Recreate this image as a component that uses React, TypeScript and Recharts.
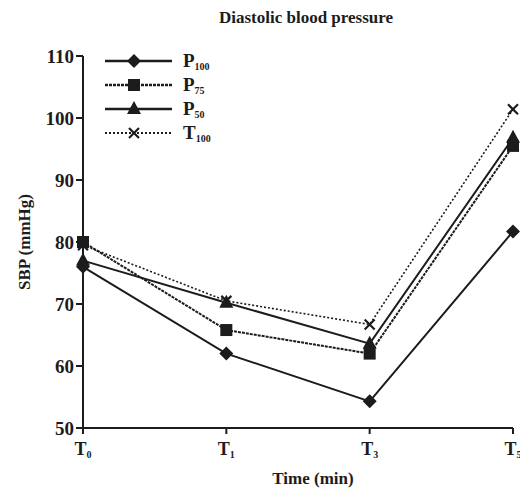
import { LineChart, Line, XAxis, YAxis } from "recharts";

const times = ["T0", "T1", "T3", "T5"];
const p100 = [76, 62, 54.3, 81.7];
const p75 = [80, 65.8, 62, 95.5];
const p50 = [77, 70.2, 63.6, 96.8];
const t100 = [79.5, 70.5, 66.7, 101.4];
const yTicks = [50, 60, 70, 80, 90, 100, 110];

const INK = "#1c1c1c";
const FONT = "'Liberation Serif', 'DejaVu Serif', serif";

const data = times.map((t, i) => ({
  time: t,
  p100: p100[i],
  p75: p75[i],
  p50: p50[i],
  t100: t100[i],
}));

type MarkerProps = { cx: number; cy: number; shape: string };

function Marker({ cx, cy, shape }: MarkerProps) {
  if (shape === "diamond") {
    const r = 7;
    return (
      <polygon
        points={`${cx},${cy - r} ${cx + r},${cy} ${cx},${cy + r} ${cx - r},${cy}`}
        fill={INK}
      />
    );
  }
  if (shape === "square") {
    return <rect x={cx - 6} y={cy - 6} width={12} height={12} fill={INK} />;
  }
  if (shape === "triangle") {
    return (
      <polygon
        points={`${cx},${cy - 8} ${cx + 7},${cy + 5} ${cx - 7},${cy + 5}`}
        fill={INK}
      />
    );
  }
  const r = 5;
  return (
    <g stroke={INK} strokeWidth={2.2}>
      <line x1={cx - r} y1={cy - r} x2={cx + r} y2={cy + r} />
      <line x1={cx - r} y1={cy + r} x2={cx + r} y2={cy - r} />
    </g>
  );
}

const series = [
  { key: "p100", name: "P", sub: "100", shape: "diamond", dash: undefined, width: 2 },
  { key: "p75", name: "P", sub: "75", shape: "square", dash: "3 1", width: 2 },
  { key: "p50", name: "P", sub: "50", shape: "triangle", dash: undefined, width: 2 },
  { key: "t100", name: "T", sub: "100", shape: "cross", dash: "2 2", width: 1.6 },
];

function TimeTick(props: any) {
  const { x, y, payload } = props;
  const label: string = payload.value;
  return (
    <text x={x} y={y + 19} textAnchor="middle" fill={INK} fontFamily={FONT} fontWeight="bold" fontSize={18}>
      {label.slice(0, 1)}
      <tspan fontSize={10} dy={3}>
        {label.slice(1)}
      </tspan>
    </text>
  );
}

function LegendBox() {
  return (
    <svg width={130} height={100} style={{ position: "absolute", left: 100, top: 49 }}>
      {series.map((s, i) => {
        const y = 12 + i * 24;
        return (
          <g key={s.key}>
            <line
              x1={5}
              x2={72}
              y1={y}
              y2={y}
              stroke={INK}
              strokeWidth={s.width + 0.4}
              strokeDasharray={s.dash}
            />
            <Marker cx={34} cy={y} shape={s.shape} />
            <text x={83} y={y + 6} fill={INK} fontFamily={FONT} fontWeight="bold" fontSize={19}>
              {s.name}
              <tspan fontSize={10} dy={3}>
                {s.sub}
              </tspan>
            </text>
          </g>
        );
      })}
    </svg>
  );
}

export default function App() {
  return (
    <div style={{ position: "absolute", left: 0, top: 0, width: 520, height: 490, background: "#fff" }}>
      <div
        style={{
          position: "absolute",
          top: 8,
          left: 0,
          width: 612,
          textAlign: "center",
          fontFamily: FONT,
          fontWeight: "bold",
          fontSize: 17,
          color: INK,
        }}
      >
        Diastolic blood pressure
      </div>
      <LineChart width={520} height={490} data={data} margin={{ top: 56, right: 7, bottom: 22, left: 23 }}>
        <XAxis
          dataKey="time"
          tick={<TimeTick />}
          tickSize={6}
          axisLine={{ stroke: INK, strokeWidth: 2 }}
          tickLine={{ stroke: INK, strokeWidth: 2 }}
          height={40}
          interval={0}
          label={() => (
            <text x={313} y={484} textAnchor="middle" fill={INK} fontFamily={FONT} fontWeight="bold" fontSize={17}>
              Time (min)
            </text>
          )}
        />
        <YAxis
          domain={[50, 110]}
          ticks={yTicks}
          width={60}
          tickSize={7}
          axisLine={{ stroke: INK, strokeWidth: 2 }}
          tickLine={{ stroke: INK, strokeWidth: 2 }}
          tick={{ fill: INK, fontFamily: FONT, fontWeight: "bold", fontSize: 19 }}
          label={() => (
            <text
              x={0}
              y={0}
              transform="translate(30,242) rotate(-90)"
              textAnchor="middle"
              fill={INK}
              fontFamily={FONT}
              fontWeight="bold"
              fontSize={17}
            >
              SBP (mmHg)
            </text>
          )}
        />
        {series.map((s) => (
          <Line
            key={s.key}
            dataKey={s.key}
            name={s.name + s.sub}
            stroke={INK}
            strokeWidth={s.width}
            strokeDasharray={s.dash}
            isAnimationActive={false}
            dot={(p: any) => <Marker key={s.key + p.index} cx={p.cx} cy={p.cy} shape={s.shape} />}
            activeDot={false}
          />
        ))}
      </LineChart>
      <LegendBox />
    </div>
  );
}
